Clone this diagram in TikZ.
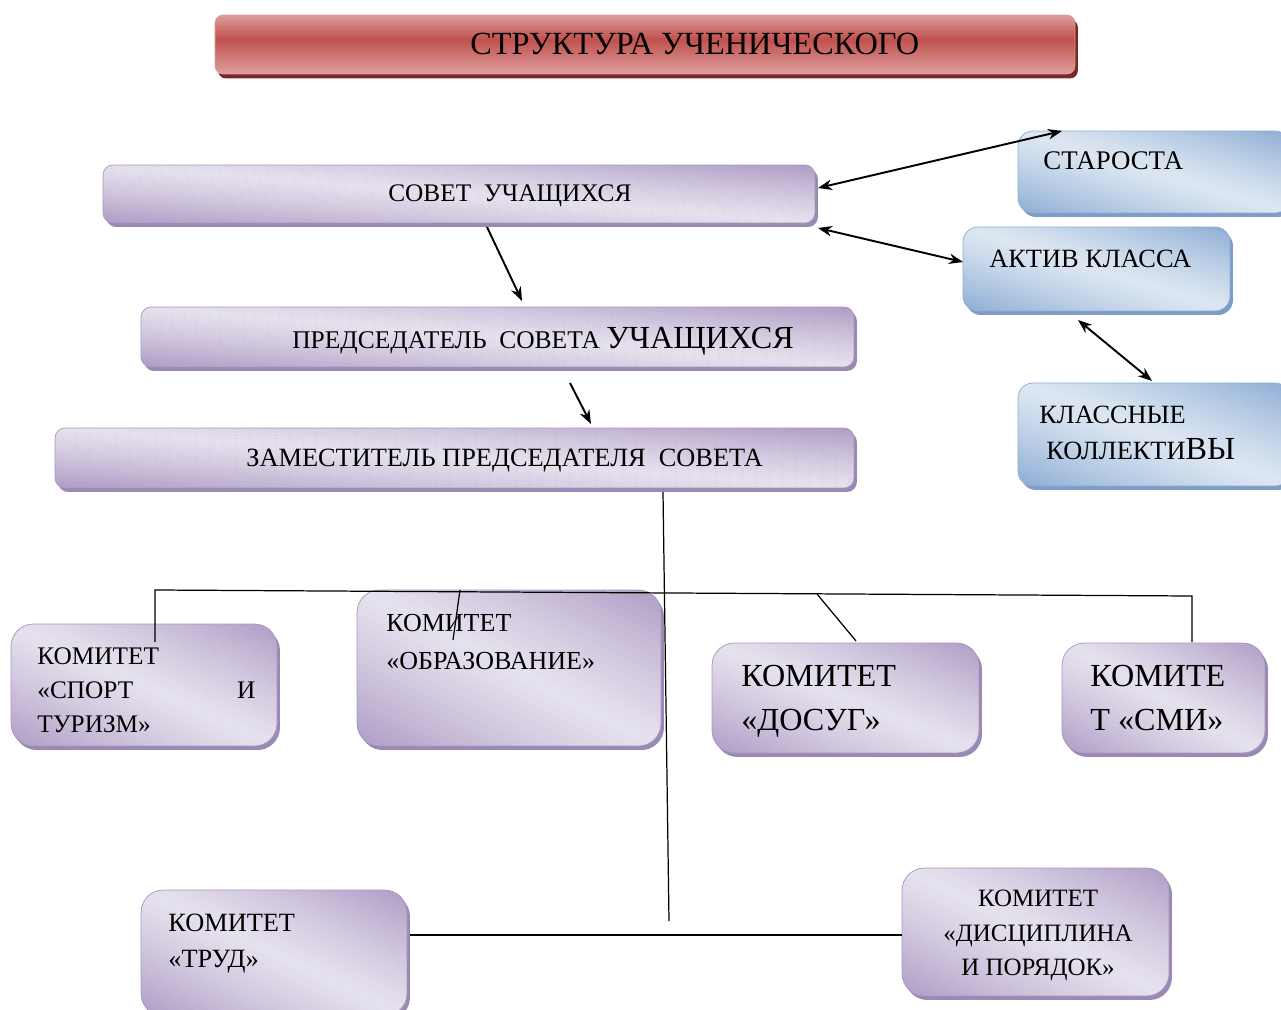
\documentclass[tikz,border=0pt]{standalone}
\usepackage{fontspec}
\setmainfont{Liberation Serif}
\usepackage{tikz}
\usetikzlibrary{shadows,calc,arrows.meta}
\definecolor{purpdark}{HTML}{AE9CC5}
\definecolor{purplight}{HTML}{E6E1ED}
\definecolor{purpline}{HTML}{A898C0}
\definecolor{purpshadow}{HTML}{9A89B2}
\definecolor{bluedark}{HTML}{8DADD5}
\definecolor{bluelight}{HTML}{DDE7F2}
\definecolor{blueshadow}{HTML}{7D9DC6}
\definecolor{redmid}{HTML}{C0504D}
\definecolor{redlight}{HTML}{DC9E9C}
\definecolor{redshadow}{HTML}{7A2826}
\newcommand{\bigsz}{\fontsize{18.3}{25.5}\selectfont}
\newcommand{\gloss}[2]{%
    \coordinate (gsw) at (path picture bounding box.south west);
    \coordinate (gse) at (path picture bounding box.south east);
    \coordinate (gnw) at (path picture bounding box.north west);
    \coordinate (gne) at (path picture bounding box.north east);
    \foreach \k in {0,...,39} {
        \pgfmathsetmacro{\mixval}{100*(abs(\k+0.5-20)/20)^1.2}
        \pgfmathsetmacro{\ca}{\k/20}
        \pgfmathsetmacro{\cb}{(\k+1.1)/20}
        \pgfmathsetmacro{\cc}{\cb-1}
        \pgfmathsetmacro{\cd}{\ca-1}
        \fill [sharp corners, #1!\mixval!#2] ($(gsw)!\ca!(gse)$) -- ($(gsw)!\cb!(gse)$)
            -- ($(gnw)!\cc!(gne)$) -- ($(gnw)!\cd!(gne)$) -- cycle;
    }}
\newcommand{\bands}[2]{%
    \coordinate (gsw) at (path picture bounding box.south west);
    \coordinate (gse) at (path picture bounding box.south east);
    \coordinate (gnw) at (path picture bounding box.north west);
    \coordinate (gne) at (path picture bounding box.north east);
    \foreach \k in {0,...,29} {
        \pgfmathsetmacro{\mixval}{100*min(((\k+0.5)/30)/0.58, (1-(\k+0.5)/30)/0.42)}
        \pgfmathsetmacro{\ca}{\k/30}
        \pgfmathsetmacro{\cb}{(\k+1.1)/30}
        \fill [sharp corners, #1!\mixval!#2] ($(gsw)!\ca!(gnw)$) rectangle ($(gse)!\cb!(gne)$);
    }}
\tikzstyle{lilac} = [rectangle, rounded corners=0.2cm, draw=purpline, line width=0.4pt,
    fill=purpdark, path picture={\gloss{purpdark}{purplight}},
    drop shadow={shadow xshift=0.06cm, shadow yshift=-0.08cm, fill=purpshadow, opacity=1}]
\tikzstyle{sky} = [rectangle, rounded corners=0.3cm, draw=bluedark, line width=0.4pt,
    fill=bluedark, path picture={\gloss{bluedark}{bluelight}},
    drop shadow={shadow xshift=0.06cm, shadow yshift=-0.08cm, fill=blueshadow, opacity=1}]
\tikzstyle{banner} = [rectangle, rounded corners=0.16cm, draw=redlight, line width=0.4pt,
    fill=redmid, path picture={\bands{redmid}{redlight}},
    drop shadow={shadow xshift=0.06cm, shadow yshift=-0.09cm, fill=redshadow, opacity=1}]
\tikzstyle{txt} = [inner sep=0pt, anchor=north west, align=left, font=\fontsize{15}{19.5}\selectfont]
\tikzstyle{link} = [line width=0.7pt]
\tikzstyle{arrow} = [line width=1.1pt,->,>={Stealth[length=8pt,width=6pt]}]
\tikzstyle{dblarrow} = [line width=1.1pt,<->,>={Stealth[length=8pt,width=6pt]}]

\begin{document}
\begin{tikzpicture}[x=0.02cm, y=-0.02cm]
        \path [use as bounding box, fill=white] (0,0) rectangle (1281,1010);
        % boxes
        \node (title) [banner, minimum width=17.2cm, minimum height=1.18cm] at (645,44.5) {};
        \node (sovet) [lilac, minimum width=14.24cm, minimum height=1.16cm] at (459,194) {};
        \node (pred) [lilac, minimum width=14.26cm, minimum height=1.2cm] at (497.5,337) {};
        \node (zam) [lilac, minimum width=15.98cm, minimum height=1.2cm] at (454.5,458) {};
        \node (starosta) [sky, minimum width=5.44cm, minimum height=1.64cm] at (1154,172) {};
        \node (aktiv) [sky, minimum width=5.34cm, minimum height=1.68cm] at (1096.5,269) {};
        \node (klass) [sky, minimum width=5.44cm, minimum height=2.06cm] at (1154,434.5) {};
        \node (sport) [lilac, rounded corners=0.45cm, minimum width=5.32cm, minimum height=2.44cm] at (144,685) {};
        \node (obraz) [lilac, rounded corners=0.45cm, minimum width=6.08cm, minimum height=3.12cm] at (509,668) {};
        \node (dosug) [lilac, rounded corners=0.45cm, minimum width=5.34cm, minimum height=2.2cm] at (845.5,698) {};
        \node (smi) [lilac, rounded corners=0.45cm, minimum width=4.06cm, minimum height=2.2cm] at (1163.5,698) {};
        \node (trud) [lilac, rounded corners=0.45cm, minimum width=5.32cm, minimum height=2.52cm] at (274,953) {};
        \node (disc) [lilac, rounded corners=0.45cm, minimum width=5.34cm, minimum height=2.56cm] at (1035.5,932) {};
        % texts
        \node (title-t) [txt, font=\fontsize{18.4}{22}\selectfont] at (470,33) {СТРУКТУРА УЧЕНИЧЕСКОГО};
        \node (sovet-t) [txt, font=\fontsize{14.4}{19.5}\selectfont] at (388,184) {СОВЕТ\ \ УЧАЩИХСЯ};
        \node (pred-t) [txt, anchor=base west, font=\fontsize{14.5}{19.5}\selectfont] at (292,348) {ПРЕДСЕДАТЕЛЬ\ \ СОВЕТА {\bigsz УЧАЩИХСЯ}};
        \node (zam-t) [txt] at (246,449) {ЗАМЕСТИТЕЛЬ ПРЕДСЕДАТЕЛЯ\ \ СОВЕТА};
        \node (starosta-t) [txt, font=\fontsize{15.3}{19.5}\selectfont] at (1043,151) {СТАРОСТА};
        \node (aktiv-t) [txt] at (989,250) {АКТИВ КЛАССА};
        \node (klass-t) [txt, font=\fontsize{15}{20.4}\selectfont] at (1039,406) {КЛАССНЫЕ\\\hspace*{4pt}КОЛЛЕКТИ{\bigsz ВЫ}};
        \node (sport-t) [txt, text width=4.36cm, font=\fontsize{14.4}{19.5}\selectfont] at (37,647) {КОМИТЕТ\\«СПОРТ\hfill И\\ТУРИЗМ»};
        \node (obraz-t) [txt, font=\fontsize{14.8}{21.5}\selectfont] at (386,614) {КОМИТЕТ\\«ОБРАЗОВАНИЕ»};
        \node (dosug-t) [txt, font=\bigsz] at (741,664.5) {КОМИТЕТ\\«ДОСУГ»};
        \node (smi-t) [txt, font=\bigsz] at (1090,664.5) {КОМИТЕ\\Т «СМИ»};
        \node (trud-t) [txt, font=\fontsize{15}{20.4}\selectfont] at (168,914) {КОМИТЕТ\\«ТРУД»};
        \node (disc-t) [txt, anchor=north, align=center, font=\fontsize{14.2}{19.5}\selectfont] at (1038,890) {КОМИТЕТ\\«ДИСЦИПЛИНА\\И ПОРЯДОК»};
        % connectors
        \coordinate (busend) at (669,921);
        \draw [dblarrow] ($(sovet)+(359,-6)$) -- ($(starosta)+(-92,-41)$);
        \draw [dblarrow] ($(sovet)+(359,34)$) -- ($(aktiv)+(-133.5,-7)$);
        \draw [dblarrow] ($(aktiv)+(-18.5,51)$) -- ($(klass)+(-2,-53.5)$);
        \draw [arrow] ($(sovet)+(28,33)$) -- ($(pred)+(24.5,-36)$);
        \draw [arrow] ($(pred)+(72.5,46)$) -- ($(zam)+(136.5,-34)$);
        \draw [link] ($(zam)+(208.5,34)$) -- (busend);
        \draw [link] ($(sport)+(11,-43)$) -- ($(sport)+(11,-95)$) -- ($(smi)+(28.5,-102)$) -- ($(smi)+(28.5,-56)$);
        \draw [link] ($(obraz)+(-49,-78)$) -- ($(obraz)+(-56,-28)$);
        \draw [link] ($(dosug)+(-28.5,-104)$) -- ($(dosug)+(10.5,-57)$);
        \draw [line width=1.1pt] ($(trud)+(136,-18)$) -- ($(disc)+(-133.5,3)$);
\end{tikzpicture}
\end{document}
